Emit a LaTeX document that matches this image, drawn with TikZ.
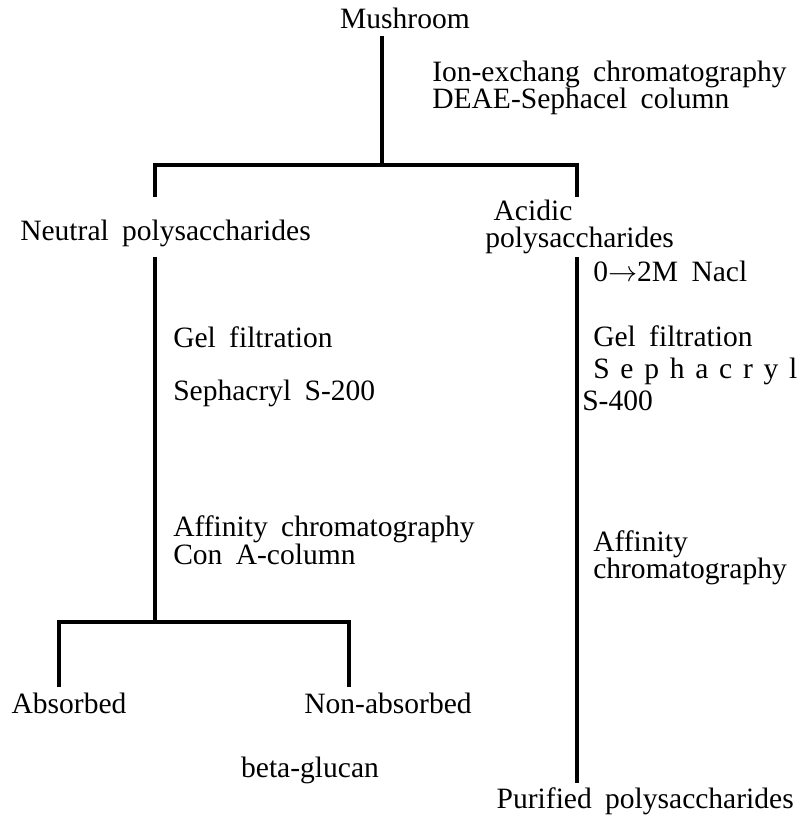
\documentclass[tikz,border=0pt]{standalone}
\usepackage{fontspec}
\setmainfont[WordSpace = 1.8]{Liberation Serif}
\usetikzlibrary{calc}

\tikzset{
    branch/.style = {black, line width = 2.5pt},
    stage/.style = {inner sep = 0pt, anchor = base, font = \fontsize{21}{25}\selectfont},
    note/.style = {stage, anchor = base west},
}

\begin{document}
\begin{tikzpicture}[x = 0.025cm, y = -0.025cm]
            \useasboundingbox (0, 0) rectangle (803, 815);

            % products of each step
            \node[stage] (mush) at (405, 28) {Mushroom};
            \node[stage, anchor = base west] (neutral) at (20, 240) {Neutral polysaccharides};
            \node[stage] (acid) at (533, 220) {Acidic};
            \node[stage, anchor = base west] (acidpoly) at (485, 247) {polysaccharides};
            \node[stage] (absorbed) at (69, 713) {Absorbed};
            \node[stage] (nonabs) at (388, 713) {Non-absorbed};
            \node[stage] (glucan) at (310, 777) {beta-glucan};
            \node[stage, anchor = base east] (purified) at (794, 808) {Purified polysaccharides};

            % separation steps
            \node[note] (ion) at (432, 81) {Ion-exchang chromatography};
            \node[note] (deae) at (432, 108) {DEAE-Sephacel column};

            \node[note] (gelA) at (173, 347) {Gel filtration};
            \node[note] (sepA) at (173, 400) {Sephacryl S-200};
            \node[note] (affA) at (173, 536) {Affinity chromatography};
            \node[note] (conA) at (173, 564) {Con A-column};

            \node[note] (nacl) at (593, 281) {0$\rightarrow$2M Nacl};
            \node[note] (gelB) at (593, 346) {Gel filtration};
            \node[note] (sepB) at (593, 378) {\makebox[5.1cm][s]{S e p h a c r y l}};
            \node[note] (sepC) at (582, 410) {S-400};
            \node[note] (affB) at (593, 551) {Affinity};
            \node[note] (chrB) at (593, 578) {chromatography};

            % tree
            \coordinate (mushfoot) at (382, 36);
            \coordinate (split) at (382, 165);
            \coordinate (neutralleg) at (155, 197);
            \coordinate (acidleg) at (577, 197);
            \coordinate (neutralfoot) at (155, 257);
            \coordinate (split2) at (155, 622);
            \coordinate (absleg) at (59, 687);
            \coordinate (nonleg) at (349, 687);
            \coordinate (acidfoot) at (577, 257);
            \coordinate (purifiedtop) at (577, 783);

            \draw[branch] (mushfoot) -- (split);
            \draw[branch] (neutralleg) |- (split) -| (acidleg);
            \draw[branch] (neutralfoot) -- (split2);
            \draw[branch] (absleg) |- (split2) -| (nonleg);
            \draw[branch] (acidfoot) -- (purifiedtop);

        \end{tikzpicture}
\end{document}
